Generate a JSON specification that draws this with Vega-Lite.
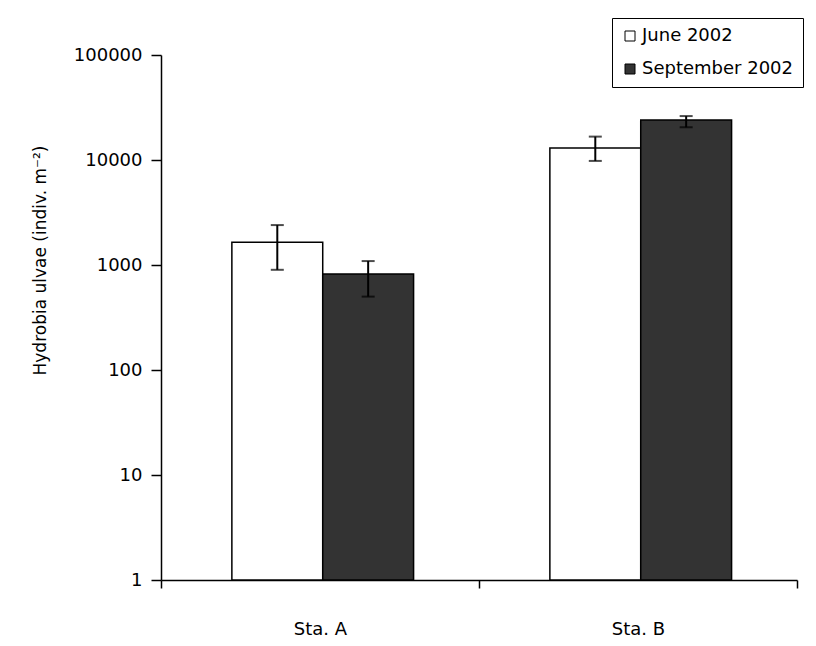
{
  "$schema": "https://vega.github.io/schema/vega-lite/v6.json",
  "width": 636,
  "height": 525,
  "autosize": "none",
  "padding": {"left": 161, "top": 55, "right": 19, "bottom": 66},
  "background": "white",
  "config": {
    "view": {"stroke": null},
    "font": "DejaVu Sans",
    "axis": {"labelFont": "DejaVu Sans", "titleFont": "DejaVu Sans", "labelColor": "black", "titleColor": "black", "domainColor": "black", "tickColor": "black", "grid": false}
  },
  "data": {
    "values": [
      {"station": "Sta. A", "month": "June 2002", "value": 1650, "lo": 900, "hi": 2400},
      {"station": "Sta. A", "month": "September 2002", "value": 820, "lo": 500, "hi": 1090},
      {"station": "Sta. B", "month": "June 2002", "value": 13000, "lo": 9800, "hi": 16700},
      {"station": "Sta. B", "month": "September 2002", "value": 24000, "lo": 20500, "hi": 26200}
    ]
  },
  "encoding": {
    "x": {
      "field": "station", "type": "nominal",
      "scale": {"paddingInner": 0, "paddingOuter": 0},
      "axis": {"title": null, "labelAngle": 0, "labelFontSize": 18, "tickBand": "extent", "tickSize": 8, "labelPadding": 32, "domainWidth": 1.5, "tickWidth": 1.5}
    },
    "xOffset": {"field": "month", "type": "nominal", "sort": ["June 2002", "September 2002"], "scale": {"paddingInner": 0, "paddingOuter": 0.75, "align": 0.52}}
  },
  "layer": [
    {
      "mark": {"type": "bar", "stroke": "black", "strokeWidth": 1.5},
      "encoding": {
        "y": {
          "field": "value", "type": "quantitative",
          "scale": {"type": "log", "domain": [1, 100000], "nice": false},
          "axis": {
            "values": [1, 10, 100, 1000, 10000, 100000],
            "format": "d",
            "labelFontSize": 18,
            "tickSize": 10,
            "labelPadding": 9,
            "domainWidth": 1.5,
            "tickWidth": 1.5,
            "title": "Hydrobia ulvae  (indiv. m⁻²)",
            "titleFontSize": 17,
            "titleFontWeight": "normal",
            "titleX": -121,
            "titleY": 205,
            "titleAlign": "center",
            "titleBaseline": "middle",
            "titleAngle": -90
          }
        },
        "y2": {"datum": 1},
        "fill": {
          "field": "month", "type": "nominal",
          "scale": {"domain": ["June 2002", "September 2002"], "range": ["#ffffff", "#333333"]},
          "legend": {
            "title": null,
            "orient": "none",
            "legendX": 451,
            "legendY": -37,
            "symbolType": "square",
            "symbolSize": 100,
            "symbolStrokeColor": "black",
            "symbolStrokeWidth": 1,
            "labelFontSize": 18,
            "labelColor": "black",
            "labelFont": "DejaVu Sans",
            "strokeColor": "black",
            "fillColor": "white",
            "padding": 9,
            "rowPadding": 15,
            "labelOffset": 3
          }
        }
      }
    },
    {
      "mark": {"type": "rule", "stroke": "black", "strokeWidth": 2},
      "encoding": {
        "y": {"field": "lo", "type": "quantitative"},
        "y2": {"field": "hi"}
      }
    },
    {
      "mark": {"type": "tick", "color": "black", "size": 13, "thickness": 2},
      "encoding": {"y": {"field": "lo", "type": "quantitative"}}
    },
    {
      "mark": {"type": "tick", "color": "black", "size": 13, "thickness": 2},
      "encoding": {"y": {"field": "hi", "type": "quantitative"}}
    }
  ]
}
